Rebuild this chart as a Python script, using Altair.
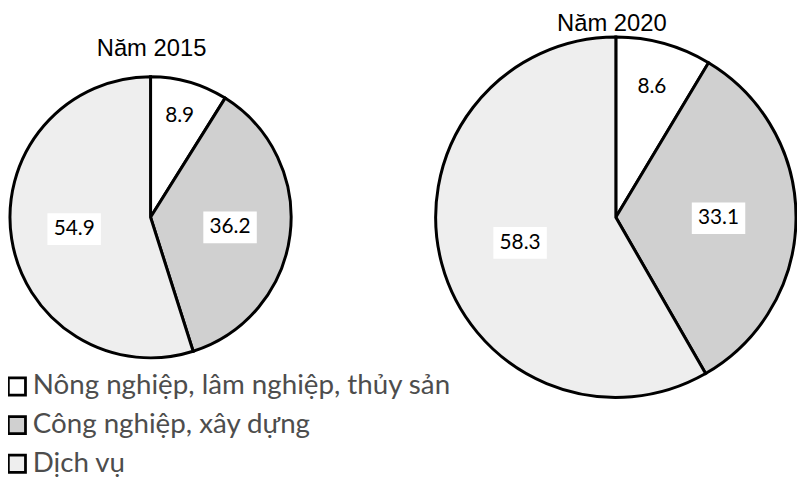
import altair as alt
import pandas as pd

# ---- data ----
CATEGORIES = ["Nông nghiệp, lâm nghiệp, thủy sản", "Công nghiệp, xây dựng", "Dịch vụ"]
YEARS = ["2015", "2020"]
TITLES = ["Năm 2015", "Năm 2020"]
VALUES_2015 = [8.9, 36.2, 54.9]
VALUES_2020 = [8.6, 33.1, 58.3]

# ---- styles ----
FILLS = ["#ffffff", "#d0d0d0", "#eeeeee"]
LABEL_R = [0.75, 0.57, 0.55]          # label distance as fraction of radius
PIE = {
    "2015": dict(cx=144, cy=209, r=142, tx=145, ty=46),
    "2020": dict(cx=614, cy=209, r=182, tx=610, ty=21),
}

rows = []
for year, vals in zip(YEARS, [VALUES_2015, VALUES_2020]):
    for i, (cat, v) in enumerate(zip(CATEGORIES, vals)):
        rows.append({"year": year, "category": cat, "value": v, "order": i, "rf": LABEL_R[i]})
df = pd.DataFrame(rows)
titles_df = pd.DataFrame({"year": YEARS, "title": TITLES})

fill_scale = alt.Scale(domain=CATEGORIES, range=FILLS)
legend = alt.Legend(
    title=None, orient="none", legendX=-5, legendY=366, padding=0,
    symbolType="square", symbolSize=300, symbolStrokeColor="black",
    symbolStrokeWidth=2.8, symbolOpacity=1,
    labelFont="Lato", labelFontSize=28, labelColor="#4d4d4d",
    labelOffset=2, rowPadding=9, labelLimit=0,
)

layers = []
for year in YEARS:
    p = PIE[year]
    d = alt.Chart(df).transform_filter(alt.datum.year == year)
    arc = d.mark_arc(outerRadius=p["r"], stroke="black", strokeWidth=3).encode(
        theta=alt.Theta("value:Q", stack=True),
        order=alt.Order("order:Q"),
        fill=alt.Fill("category:N", scale=fill_scale, legend=legend if year == "2015" else None),
        x=alt.value(p["cx"]),
        y=alt.value(p["cy"]),
    )
    lab = d.transform_window(
        cum="sum(value)", sort=[alt.SortField("order")], frame=[None, 0]
    ).transform_calculate(
        ang="(datum.cum - datum.value/2) / 100 * 2 * PI",
    ).transform_calculate(
        lx=f"{p['cx']} + {p['r']} * datum.rf * sin(datum.ang)",
        ly=f"{p['cy']} - {p['r']} * datum.rf * cos(datum.ang)",
        bw="length(format(datum.value, '.1f')) * 11 + 10",
    ).transform_calculate(
        x1="datum.lx - datum.bw / 2", x2="datum.lx + datum.bw / 2",
        y1="datum.ly - 16", y2="datum.ly + 16",
    )
    box = lab.mark_rect(fill="white").encode(
        x=alt.X("x1:Q", scale=None, axis=None), x2="x2:Q",
        y=alt.Y("y1:Q", scale=None, axis=None), y2="y2:Q",
    )
    txt = lab.mark_text(font="Lato", fontSize=21, color="black",
                        align="center", baseline="middle").encode(
        x=alt.X("lx:Q", scale=None, axis=None),
        y=alt.Y("ly:Q", scale=None, axis=None),
        text=alt.Text("value:Q", format=".1f"),
    )
    title = alt.Chart(titles_df).transform_filter(alt.datum.year == year).mark_text(
        font="Liberation Sans", fontSize=24, color="black",
        align="center", baseline="alphabetic",
    ).encode(x=alt.value(p["tx"]), y=alt.value(p["ty"]), text="title:N")
    layers += [arc, box, txt, title]

chart = alt.layer(*layers).properties(
    width=797, height=472, padding=0, autosize=alt.AutoSizeParams(type="none")
).configure_view(stroke=None)

chart.save("out.html", embed_options={"renderer": "svg", "actions": False})
